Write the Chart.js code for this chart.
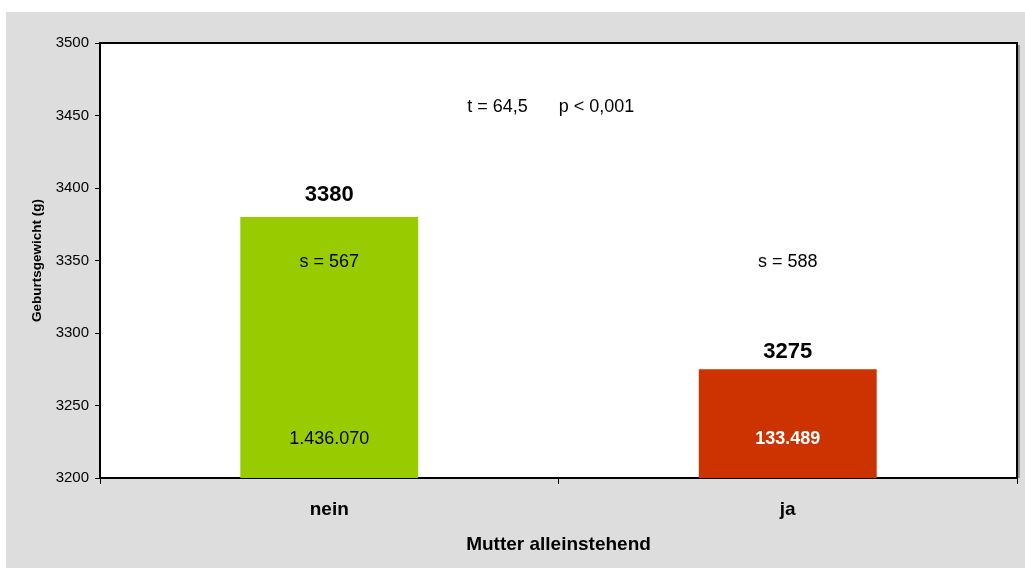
<!DOCTYPE html>
<html lang="de">
<head>
  <meta charset="UTF-8">
  <title>Geburtsgewicht – Mutter alleinstehend</title>
  <script src="https://cdn.jsdelivr.net/npm/chart.js"></script>
  <style>
    html, body { margin: 0; padding: 0; background: #fff; }
    #wrap { width: 1025px; height: 570px; position: relative; }
  </style>
</head>
<body>
  <div id="wrap"><canvas id="chart"></canvas></div>
  <script>
    // Daten
    const categories = ['nein', 'ja'];
    const means = [3380, 3275];
    const barColors = ['#99cc00', '#cc3300'];
    const yTicks = [3200, 3250, 3300, 3350, 3400, 3450, 3500];

    const meanLabels = ['3380', '3275'];
    const sdLabels = ['s = 567', 's = 588'];
    const nLabels = ['1.436.070', '133.489'];
    const testText = ['t = 64,5', 'p < 0,001'];

    const font = 'Liberation Sans, Arial, sans-serif';

    const frame = {
      id: 'frame',
      beforeDraw(chart) {
        const c = chart.ctx;
        c.save();
        c.fillStyle = '#dddddd';
        c.fillRect(6, 12, 1019, 556);
        const a = chart.chartArea;
        c.fillStyle = '#fff';
        c.fillRect(a.left, a.top, a.right - a.left, a.bottom - a.top);
        c.restore();
      },
      afterDraw(chart) {
        const c = chart.ctx;
        const a = chart.chartArea;
        const x = chart.scales.x, y = chart.scales.y;
        c.save();
        c.strokeStyle = '#999';
        c.lineWidth = 2;
        c.beginPath();
        c.moveTo(a.right + 2, a.top + 2);
        c.lineTo(a.right + 2, a.bottom);
        c.stroke();
        c.strokeStyle = '#000';
        c.lineWidth = 2;
        c.beginPath();
        c.moveTo(a.left, a.top);
        c.lineTo(a.right, a.top);
        c.lineTo(a.right, a.bottom);
        c.stroke();

        c.textAlign = 'center';
        c.textBaseline = 'middle';
        const txt = (s, i, v, f, col) => {
          c.font = f;
          c.fillStyle = col;
          c.fillText(s, x.getPixelForValue(i), y.getPixelForValue(v));
        };
        txt(meanLabels[0], 0, 3395, 'bold 22px ' + font, '#000');
        txt(meanLabels[1], 1, 3287, 'bold 22px ' + font, '#000');
        txt(sdLabels[0], 0, 3349, '18px ' + font, '#000');
        txt(sdLabels[1], 1, 3349, '18px ' + font, '#000');
        txt(nLabels[0], 0, 3227, '18px ' + font, '#000');
        txt(nLabels[1], 1, 3227, 'bold 18px ' + font, '#fff');
        txt(testText[0], 0.367, 3456, '18px ' + font, '#000');
        txt(testText[1], 0.583, 3456, '18px ' + font, '#000');
        c.restore();
      }
    };

    new Chart(document.getElementById('chart'), {
      type: 'bar',
      data: {
        labels: categories,
        datasets: [{
          data: means,
          backgroundColor: barColors,
          borderWidth: 0,
          categoryPercentage: 1,
          barPercentage: 0.388
        }]
      },
      options: {
        responsive: true,
        maintainAspectRatio: false,
        animation: false,
        devicePixelRatio: 1,
        layout: { padding: { left: 26, top: 43, right: 8, bottom: 0 } },
        plugins: { legend: { display: false }, tooltip: { enabled: false } },
        scales: {
          y: {
            min: 3200, max: 3500,
            afterBuildTicks: s => { s.ticks = yTicks.map(v => ({ value: v })); },
            afterFit: s => { s.width = 74; },
            border: { color: '#000', width: 2 },
            grid: { drawOnChartArea: false, drawTicks: true, tickLength: 5, color: '#000' },
            ticks: { color: '#000', font: { family: font, size: 15 }, padding: 6, callback: v => String(v) },
            title: {
              display: true, text: 'Geburtsgewicht (g)', color: '#000',
              font: { family: font, size: 13.5, weight: 'bold' }, padding: { top: 3, bottom: 0 }
            }
          },
          x: {
            afterFit: s => { s.height = 92; },
            border: { color: '#000', width: 2 },
            grid: { drawOnChartArea: false, drawTicks: true, tickLength: 6, color: '#000', offset: true },
            ticks: { color: '#000', font: { family: font, size: 19, weight: 'bold' }, padding: 14 },
            title: {
              display: true, text: 'Mutter alleinstehend', color: '#000',
              font: { family: font, size: 19, weight: 'bold' }, padding: { top: 0, bottom: 14 }
            }
          }
        }
      },
      plugins: [frame]
    });
  </script>
</body>
</html>
